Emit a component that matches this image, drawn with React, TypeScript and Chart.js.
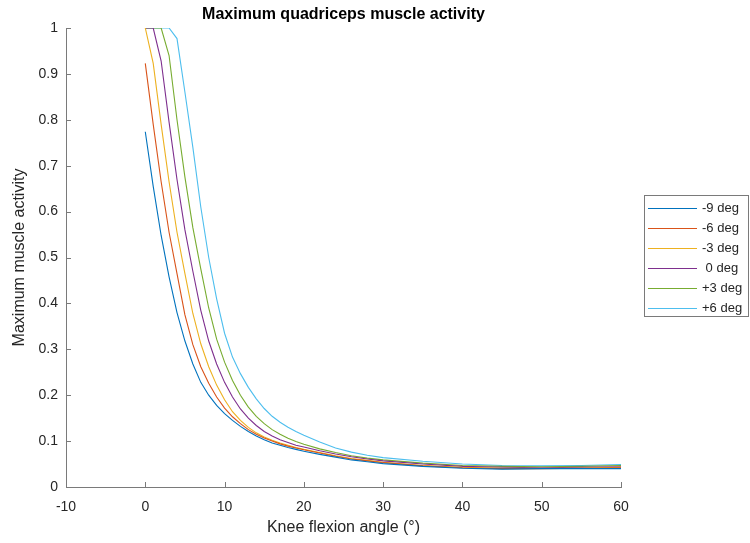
import React, { useEffect, useRef } from 'react';
import { Chart, registerables } from 'chart.js';

Chart.register(...registerables);

const titleText = 'Maximum quadriceps muscle activity';
const xTitle = 'Knee flexion angle (°)';
const yTitle = 'Maximum muscle activity';

const angles = [0, 1, 2, 3, 4, 5, 6, 7, 8, 9, 10, 11, 12, 13, 14, 15, 16, 17, 18, 19, 20, 22, 24, 26, 28, 30, 35, 40, 45, 50, 55, 60];

const minus9 = [0.774, 0.655, 0.548, 0.458, 0.38, 0.318, 0.268, 0.228, 0.2, 0.178, 0.16, 0.145, 0.132, 0.121, 0.111, 0.103, 0.096, 0.091, 0.086, 0.082, 0.078, 0.071, 0.065, 0.059, 0.055, 0.051, 0.045, 0.041, 0.039, 0.04, 0.04, 0.04];
const minus6 = [0.923, 0.79, 0.665, 0.555, 0.465, 0.375, 0.31, 0.262, 0.226, 0.196, 0.172, 0.153, 0.138, 0.125, 0.115, 0.107, 0.1, 0.094, 0.089, 0.085, 0.081, 0.074, 0.067, 0.061, 0.057, 0.053, 0.046, 0.042, 0.04, 0.04, 0.041, 0.042];
const minus3 = [1.0, 0.923, 0.79, 0.665, 0.555, 0.465, 0.378, 0.312, 0.262, 0.222, 0.19, 0.164, 0.145, 0.13, 0.118, 0.109, 0.102, 0.096, 0.091, 0.086, 0.082, 0.075, 0.068, 0.062, 0.058, 0.054, 0.047, 0.043, 0.041, 0.041, 0.041, 0.043];
const zero = [1.0, 1.0, 0.928, 0.795, 0.67, 0.56, 0.47, 0.385, 0.318, 0.268, 0.228, 0.196, 0.17, 0.15, 0.134, 0.121, 0.111, 0.103, 0.097, 0.091, 0.087, 0.079, 0.072, 0.066, 0.061, 0.057, 0.05, 0.045, 0.043, 0.042, 0.043, 0.044];
const plus3 = [1.0, 1.0, 1.0, 0.94, 0.8, 0.675, 0.565, 0.475, 0.39, 0.322, 0.272, 0.232, 0.2, 0.174, 0.154, 0.138, 0.125, 0.115, 0.106, 0.099, 0.093, 0.083, 0.075, 0.068, 0.063, 0.059, 0.052, 0.047, 0.045, 0.044, 0.045, 0.047];
const plus6 = [1.0, 1.0, 1.0, 1.0, 0.977, 0.86, 0.74, 0.61, 0.5, 0.41, 0.335, 0.283, 0.247, 0.217, 0.192, 0.171, 0.154, 0.141, 0.13, 0.121, 0.113, 0.098, 0.085, 0.076, 0.069, 0.064, 0.056, 0.05, 0.047, 0.046, 0.047, 0.049];

const seriesLabels = ['-9 deg', '-6 deg', '-3 deg', ' 0 deg', '+3 deg', '+6 deg'];
const seriesValues = [minus9, minus6, minus3, zero, plus3, plus6];
const seriesColors = ['#0072BD', '#D95319', '#EDB120', '#7E2F8E', '#77AC30', '#4DBEEE'];

const xMin = -10;
const xMax = 60;
const xStep = 10;
const yMin = 0;
const yMax = 1;
const yStep = 0.1;

const FONT = '"Liberation Sans", Arial, Helvetica, sans-serif';
const AXIS_COLOR = '#7a7a7a';
const TEXT_COLOR = '#262626';

const matlabPlugin = {
  id: 'matlabDecor',
  afterDraw(chart: any) {
    const ctx = chart.ctx as CanvasRenderingContext2D;
    const { left, right, bottom } = chart.chartArea;
    const xs = chart.scales.x;
    const ys = chart.scales.y;
    ctx.save();
    // inward tick marks
    ctx.strokeStyle = AXIS_COLOR;
    ctx.lineWidth = 1;
    ctx.beginPath();
    xs.ticks.forEach((t: any) => {
      const px = Math.round(xs.getPixelForValue(t.value)) + 0.5;
      ctx.moveTo(px, bottom);
      ctx.lineTo(px, bottom - 5);
    });
    ys.ticks.forEach((t: any) => {
      const py = Math.round(ys.getPixelForValue(t.value)) + 0.5;
      ctx.moveTo(left, py);
      ctx.lineTo(left + 5, py);
    });
    ctx.stroke();

    // title
    ctx.fillStyle = '#000';
    ctx.font = `bold 16px ${FONT}`;
    ctx.textAlign = 'center';
    ctx.textBaseline = 'middle';
    ctx.fillText(titleText, (left + right) / 2, 15);

    // legend box
    const boxX = 644.5;
    const boxY = 195.5;
    const boxW = 104;
    const boxH = 121;
    ctx.fillStyle = '#ffffff';
    ctx.fillRect(boxX, boxY, boxW, boxH);
    ctx.strokeStyle = AXIS_COLOR;
    ctx.lineWidth = 1;
    ctx.strokeRect(boxX, boxY, boxW, boxH);
    ctx.font = `13px ${FONT}`;
    ctx.textAlign = 'left';
    ctx.textBaseline = 'middle';
    chart.data.datasets.forEach((ds: any, i: number) => {
      const cy = 208.5 + i * 20;
      ctx.strokeStyle = ds.borderColor;
      ctx.lineWidth = 1;
      ctx.beginPath();
      ctx.moveTo(648, cy);
      ctx.lineTo(697, cy);
      ctx.stroke();
      ctx.fillStyle = TEXT_COLOR;
      ctx.fillText(ds.label, 702, cy);
    });
    ctx.restore();
  },
};

export default function App() {
  const canvasRef = useRef<HTMLCanvasElement | null>(null);

  useEffect(() => {
    document.body.style.margin = '0';
    const canvas = canvasRef.current;
    if (!canvas) return;
    const datasets = seriesValues.map((vals, i) => ({
      label: seriesLabels[i],
      data: angles.map((a, j) => ({ x: a, y: vals[j] })),
      borderColor: seriesColors[i],
      backgroundColor: seriesColors[i],
      borderWidth: 1.1,
      pointRadius: 0,
      fill: false,
      tension: 0,
    }));
    const chart = new Chart(canvas, {
      type: 'line',
      data: { datasets },
      options: {
        responsive: false,
        animation: false,
        maintainAspectRatio: false,
        layout: { padding: { top: 28, right: 129, left: 0, bottom: 0 } },
        plugins: {
          legend: { display: false },
          title: { display: false },
          tooltip: { enabled: false },
        },
        scales: {
          x: {
            type: 'linear',
            min: xMin,
            max: xMax,
            afterFit: (s: any) => { s.height = 56; },
            ticks: {
              stepSize: xStep,
              color: TEXT_COLOR,
              font: { family: FONT, size: 14 },
              padding: 12,
              maxRotation: 0,
            },
            grid: { display: true, drawOnChartArea: false, drawTicks: false },
            border: { display: true, color: AXIS_COLOR, width: 1 },
            title: {
              display: true,
              text: xTitle,
              color: TEXT_COLOR,
              font: { family: FONT, size: 16 },
              padding: { top: 0, bottom: 6 },
            },
          },
          y: {
            type: 'linear',
            min: yMin,
            max: yMax,
            afterFit: (s: any) => { s.width = 66; },
            ticks: {
              stepSize: yStep,
              color: TEXT_COLOR,
              font: { family: FONT, size: 14 },
              padding: 8,
              callback: (v: any) => String(Number(Number(v).toFixed(1))),
            },
            grid: { display: true, drawOnChartArea: false, drawTicks: false },
            border: { display: true, color: AXIS_COLOR, width: 1 },
            title: {
              display: true,
              text: yTitle,
              color: TEXT_COLOR,
              font: { family: FONT, size: 16 },
              padding: { top: 10, bottom: 0 },
            },
          },
        },
      },
      plugins: [matlabPlugin],
    });
    return () => chart.destroy();
  }, []);

  return (
    <div style={{ position: 'absolute', left: 0, top: 0, width: 750, height: 543, background: '#fff' }}>
      <canvas ref={canvasRef} width={750} height={543} />
    </div>
  );
}
